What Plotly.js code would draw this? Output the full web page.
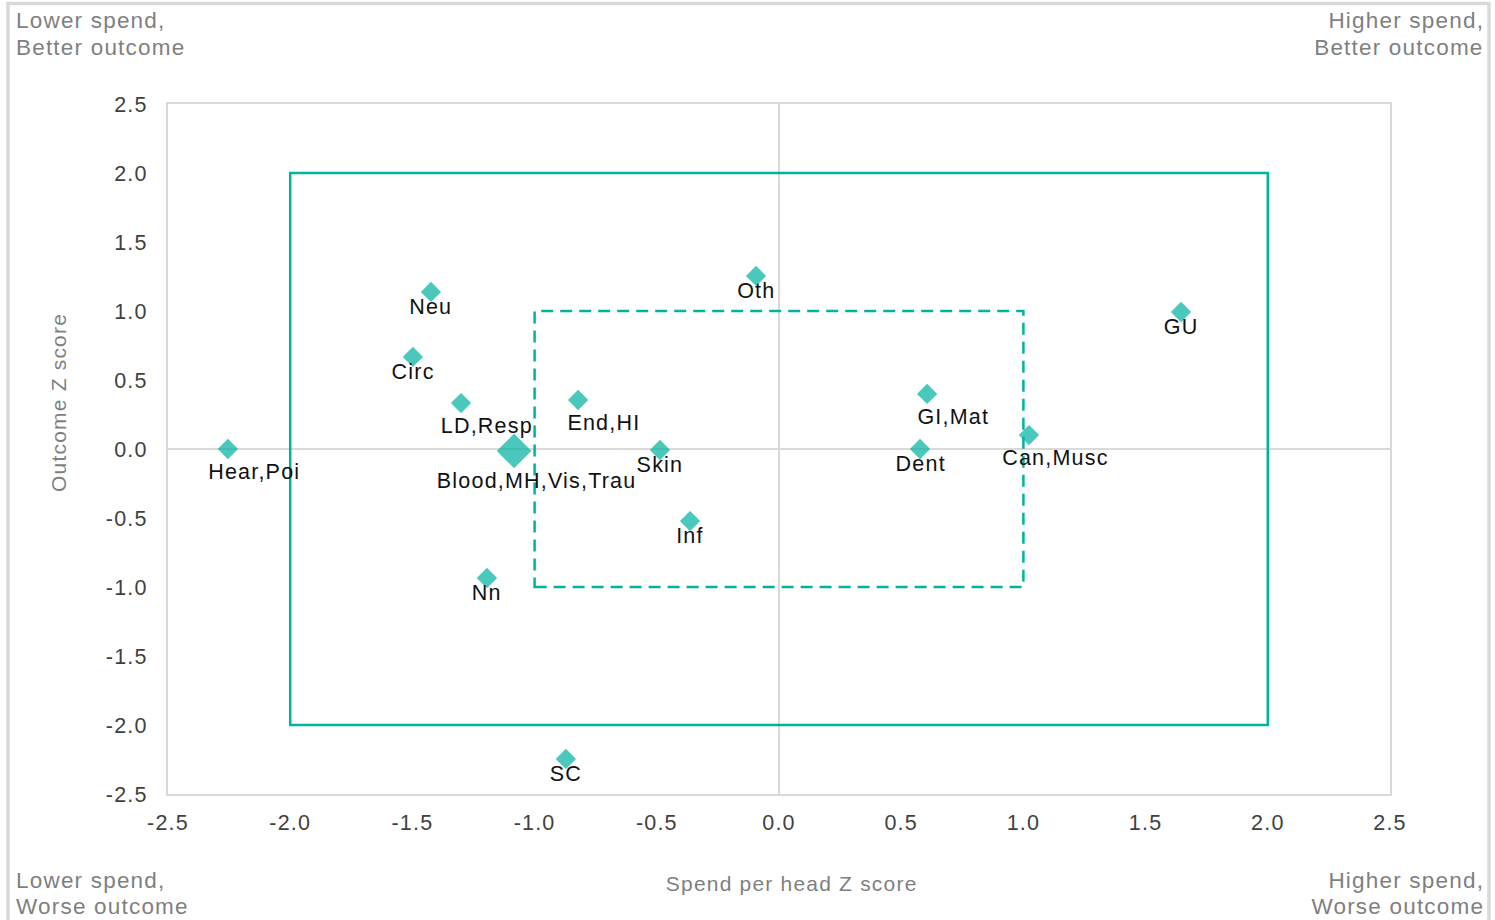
<!DOCTYPE html>
<html>
<head>
<meta charset="utf-8">
<script src="https://cdn.plot.ly/plotly-3.0.1.min.js"></script>
<style>
  html, body { margin: 0; padding: 0; background: #fff; }
  #chart { width: 1495px; height: 920px; }
  #chart svg text { letter-spacing: 1.2px; }
</style>
</head>
<body>
<div id="chart"></div>
<script>
// ---- data ----
const labels = ["Hear,Poi", "Neu", "Circ", "LD,Resp", "Blood,MH,Vis,Trau", "End,HI", "Skin", "Oth", "Inf", "Nn", "SC", "GI,Mat", "Dent", "Can,Musc", "GU"];
const spendZ = [-2.255, -1.424, -1.498, -1.301, -1.084, -0.822, -0.487, -0.094, -0.364, -1.195, -0.872, 0.606, 0.577, 1.023, 1.645];
const outcomeZ = [0.0, 1.138, 0.667, 0.333, -0.014, 0.355, -0.007, 1.254, -0.522, -0.935, -2.246, 0.399, 0.0, 0.101, 0.993];
const groupCount = [2, 1, 1, 2, 4, 2, 1, 1, 1, 1, 1, 2, 1, 2, 1];
const tickVals = [-2.5, -2.0, -1.5, -1.0, -0.5, 0.0, 0.5, 1.0, 1.5, 2.0, 2.5];
const tickText = ["-2.5", "-2.0", "-1.5", "-1.0", "-0.5", "0.0", "0.5", "1.0", "1.5", "2.0", "2.5"];
const cornerLines = [
  ["Lower spend,", "Better outcome"],
  ["Higher spend,", "Better outcome"],
  ["Lower spend,", "Worse outcome"],
  ["Higher spend,", "Worse outcome"]
];
const outerBox = [-2, 2];
const innerBox = [-1, 1];

// ---- styles ----
const teal = "#00B2A0";
const markerSizes = groupCount.map(c => c >= 4 ? 25 : 14);
const labelFont = { family: "Liberation Sans, Arial, sans-serif", size: 21.5, color: "#111111" };
const cornerFont = { family: "Liberation Sans, Arial, sans-serif", size: 22.5, color: "#7f7f7f" };
const titleFont = { family: "Liberation Sans, Arial, sans-serif", size: 21, color: "#7f7f7f" };

const trace = {
  type: "scatter",
  mode: "markers",
  x: spendZ,
  y: outcomeZ,
  marker: { symbol: "diamond", color: teal, size: markerSizes, line: { width: 1.5, color: teal } },
  hoverinfo: "text",
  text: labels,
  cliponaxis: false
};

const pointAnnotations = labels.map((lab, i) => {
  const multi = lab.indexOf(",") >= 0;
  return {
    x: spendZ[i], y: outcomeZ[i], xref: "x", yref: "y",
    text: lab, showarrow: false,
    xanchor: "center", yanchor: "middle",
    xshift: multi ? (groupCount[i] >= 4 ? 22 : 26) : 0,
    yshift: multi ? (groupCount[i] >= 4 ? -30 : -23) : -15,
    font: labelFont
  };
});

const px = p => (p - 168) / 1222;
const py = p => (794 - p) / 690;

// corner placement: [x pixel, anchor, first line y, second line y]
const cornerPos = [
  [14, "left", 20, 47],
  [1486, "right", 20, 47],
  [14, "left", 880, 906],
  [1486, "right", 880, 906]
];
const cornerAnnotations = [];
cornerLines.forEach((lines, k) => {
  const [xp, anc, y1, y2] = cornerPos[k];
  [y1, y2].forEach((yp, j) => {
    cornerAnnotations.push({
      text: lines[j], x: px(xp), y: py(yp), xanchor: anc, yanchor: "middle", align: anc,
      xref: "paper", yref: "paper", showarrow: false, font: cornerFont
    });
  });
});

const titleAnnotations = [
  { text: "Spend per head Z score", x: px(791), y: py(883), xanchor: "center", yanchor: "middle" },
  { text: "Outcome Z score", x: px(58), y: py(403), xanchor: "center", yanchor: "middle", textangle: -90 }
].map(a => Object.assign({ xref: "paper", yref: "paper", showarrow: false, font: titleFont }, a));

const shapes = [
  { type: "rect", xref: "x", yref: "y", x0: outerBox[0], x1: outerBox[1], y0: outerBox[0], y1: outerBox[1],
    line: { color: teal, width: 2.5 }, layer: "above" },
  { type: "rect", xref: "x", yref: "y", x0: innerBox[0], x1: innerBox[1], y0: innerBox[0], y1: innerBox[1],
    line: { color: teal, width: 2.5, dash: "12px,7px" }, layer: "above" },
  { type: "rect", xref: "paper", yref: "paper", x0: px(8), x1: px(1489), y0: py(935), y1: py(3.5),
    line: { color: "#d9d9d9", width: 3.5 }, layer: "below" }
];

const axisCommon = {
  tickmode: "array",
  tickvals: tickVals,
  ticktext: tickText,
  range: [-2.5, 2.5],
  showgrid: false,
  zeroline: true,
  zerolinecolor: "#d9d9d9",
  zerolinewidth: 2,
  showline: true,
  linecolor: "#d9d9d9",
  linewidth: 2,
  mirror: true,
  ticks: "outside",
  tickcolor: "rgba(0,0,0,0)",
  tickfont: { family: "Liberation Sans, Arial, sans-serif", size: 21.5, color: "#404040" },
  fixedrange: true
};

const layout = {
  width: 1495,
  height: 920,
  margin: { l: 168, r: 105, t: 104, b: 126 },
  paper_bgcolor: "#ffffff",
  plot_bgcolor: "#ffffff",
  showlegend: false,
  xaxis: Object.assign({}, axisCommon, { ticklen: 8 }),
  yaxis: Object.assign({}, axisCommon, { ticklen: 14 }),
  shapes: shapes,
  annotations: pointAnnotations.concat(cornerAnnotations, titleAnnotations)
};

Plotly.newPlot("chart", [trace], layout, { displayModeBar: false, staticPlot: true });
</script>
</body>
</html>
